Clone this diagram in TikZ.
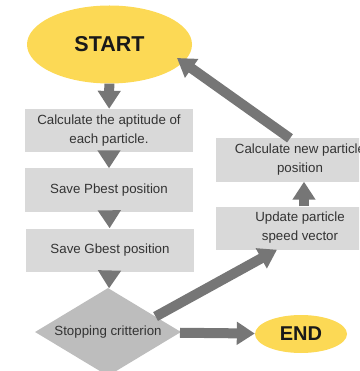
\documentclass[tikz,border=0pt]{standalone}
\usepackage{fontspec}
\setmainfont{Liberation Sans}
\usetikzlibrary{shapes.geometric,arrows.meta,calc}
\definecolor{yel}{HTML}{FCD955}
\definecolor{arrg}{HTML}{767676}
\definecolor{boxg}{HTML}{D9D9D9}
\definecolor{diag}{HTML}{BDBDBD}
\definecolor{txt}{HTML}{333333}
\tikzset{
  term/.style={ellipse,fill=yel,inner sep=0pt,text=black!90,font=\fontsize{21.5}{24}\selectfont\bfseries},
  stepbox/.style={rectangle,fill=boxg,minimum width=168pt,minimum height=43pt,inner sep=0pt,align=center,text=txt,font=\fontsize{13.3}{19}\selectfont},
  decide/.style={diamond,aspect=1.66,fill=diag,minimum width=146pt,minimum height=88pt,inner sep=0pt,text=txt,font=\fontsize{13.3}{16}\selectfont},
  arr/.style={draw=arrg,line width=10pt,-{Triangle[length=18pt,width=22pt,fill=arrg]}},
}
\begin{document}
\begin{tikzpicture}[x=1pt,y=-1pt]
\useasboundingbox (0,0) rectangle (359,371);
\clip (0,0) rectangle (359,371);
\node[term,minimum width=165pt,minimum height=78pt] (start) at (109.5,44.5) {START};
\node[stepbox] (calc) at (109,130.5) {Calculate the aptitude of\\each particle.};
\node[stepbox] (pb) at (109,190) {Save Pbest position};
\node[stepbox] (gb) at (110,250) {Save Gbest position};
\node[decide] (dia) at (108,332) {Stopping critterion};
\node[term,minimum width=92pt,minimum height=38pt,font=\fontsize{20}{22}\selectfont\bfseries] (end) at (301,334) {END};
\node[stepbox] (upd) at (300,228) {Update particle\\speed vector};
\node[stepbox] (cnew) at (300,160) {Calculate new particle\\position};
\coordinate (dtail) at ($(dia.north)!0.65!(dia.east)$);
\coordinate (utip) at ([xshift=-23pt]upd.south);
\coordinate (ctail) at ([xshift=-10pt]cnew.north);
\coordinate (stip) at ([shift={(67.5,13.5)}]start.center);
\draw[arr] (start) -- (calc);
\draw[arr] (calc) -- (pb);
\draw[arr] (pb) -- (gb);
\draw[arr] (gb) -- (dia);
\draw[arr] (dia) -- (end);
\draw[arr] (dtail) -- (utip);
\draw[arr] ([xshift=4pt]upd.north) -- ([xshift=4pt]cnew.south);
\draw[arr] (ctail) -- (stip);
\end{tikzpicture}
\end{document}
